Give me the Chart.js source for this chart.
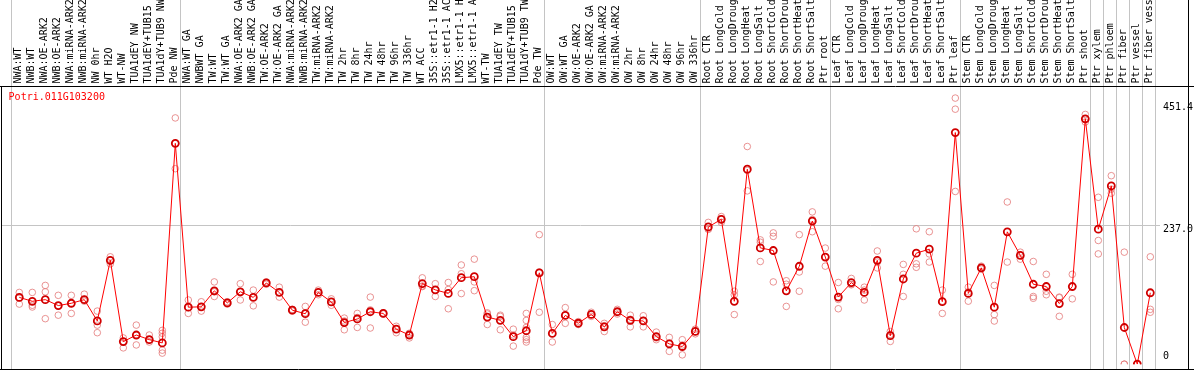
<!DOCTYPE html>
<html><head><meta charset="utf-8">
<script src="https://cdn.jsdelivr.net/npm/chart.js@4/dist/chart.umd.min.js"></script>
<style>html,body{margin:0;padding:0;background:#fff;overflow:hidden}#wrap{width:1194px;height:370px;position:relative}canvas{display:block}</style>
</head><body><div id="wrap"><canvas id="c" width="1194" height="370"></canvas></div>
<script>
const geneName = "Potri.011G103200";
const categories = [
 "NWA:WT","NWB:WT","NWA:OE-ARK2","NWB:OE-ARK2","NWA:miRNA-ARK2","NWB:miRNA-ARK2","NW 0hr","WT H2O","WT-NW","TUA1dEY NW","TUA1dEY+TUB15","TUA1dY+TUB9 NW","Pde NW",
 "NWA:WT GA","NWBWT GA","TW:WT","TW:WT GA","NWA:OE-ARK2 GA","NWB:OE-ARK2 GA","TW:OE-ARK2","TW:OE-ARK2 GA","NWA:miRNA-ARK2","NWB:miRNA-ARK2","TW:miRNA-ARK2","TW:miRNA-ARK2",
 "TW 2hr","TW 8hr","TW 24hr","TW 48hr","TW 96hr","TW 336hr","WT ACC","35S::etr1-1 H2","35S::etr1-1 AC","LMX5::etr1-1 H","LMX5::etr1-1 A","WT-TW","TUA1dEY TW","TUA1dEY+TUB15","TUA1dY+TUB9 TW","Pde TW",
 "OW:WT","OW:WT GA","OW:OE-ARK2","OW:OE-ARK2 GA","OW:miRNA-ARK2","OW:miRNA-ARK2","OW 2hr","OW 8hr","OW 24hr","OW 48hr","OW 96hr","OW 336hr",
 "Root CTR","Root LongCold","Root LongDroug","Root LongHeat","Root LongSalt","Root ShortCold","Root ShortDrou","Root ShortHeat","Root ShortSalt","Ptr root",
 "Leaf CTR","Leaf LongCold","Leaf LongDroug","Leaf LongHeat","Leaf LongSalt","Leaf ShortCold","Leaf ShortDrou","Leaf ShortHeat","Leaf ShortSalt","Ptr leaf",
 "Stem CTR","Stem LongCold","Stem LongDroug","Stem LongHeat","Stem LongSalt","Stem ShortCold","Stem ShortDrou","Stem ShortHeat","Stem ShortSalt","Ptr shoot",
 "Ptr xylem","Ptr phloem","Ptr fiber","Ptr vessel","Ptr fiber vess"
];
const meanValues = [
 114.5,107.8,110.6,100.5,104.4,110.6,74.1,178,38.7,50,42.1,36.5,378.4,
 97.7,98.3,125.7,105,124.1,114.5,139.2,123,92.6,86.5,123,106.7,
 71.3,77.5,89.9,87,60.1,50,138.1,127.4,121.3,148.2,149.9,80.8,75.2,47.2,57.3,156.6,
 52.8,83.6,70.2,85.3,64,89.9,75.2,74.1,47.2,34.8,30.3,56.2,
 235.2,248.2,107.8,334.1,199.3,194.8,125.7,167.8,245.3,183.6,
 115.1,139.8,123,178,48.8,146,190.3,197.1,107.2,396.9,
 121.3,165.1,97.7,226.8,186.4,137,133.1,103.9,133.1,420.5,
 231.3,305.4,62.9,0,122.4
];
const replicateValues = [
 [123,114,103],[123,101,98],[135,124,78],[118,100,84],[118,104,87],[120,108,111],[91,67,54],[184,172,178],[45,28,39],[67,33,50],[50,38,42],[58,53,47,24,19],[422,335,378],
 [110,87,97],[107,91,98],[141,116,124],[107,103,105],[138,110,124],[127,100,115],[141,139,137],[132,115,123],[94,91,93],[99,72,88],[127,119,123],[112,101,107],
 [79,59,74],[87,63,80],[115,62,93],[88,86,87],[65,54,60],[53,45,50],[148,133,134],[138,116,127],[140,128,95],[170,155,121],[180,141,126],[88,68,86],[84,59,82],[60,31,50],[87,75,63,46,42,38],[222,89,158],
 [68,38,53],[97,70,84],[73,68,70],[89,82,85],[70,56,66],[94,86,90],[84,64,77],[83,64,75],[55,42,45],[46,22,36],[42,16,33],[60,52,56],
 [243,231,232],[253,243,249],[125,119,85],[373,297,332],[213,209,176],[225,219,141],[143,137,99],[222,158,125],[261,227,248],[199,168,184],
 [140,111,95],[147,137,136],[132,110,127],[194,165,175],[56,39,51],[171,154,116],[232,172,166],[227,189,175],[127,87,108],[456,437,296],
 [132,108,124],[168,163,165],[135,85,74],[278,175],[192,180,187],[176,116,113],[154,125,119],[115,82,114],[154,112,133],[428,415,420],
 [286,212,189],[323,293,300],[192,0,0],[0,0,0],[184,94,89]
];
const yTickValues = [0, 237.0, 451.4];
const yTickLabels = ["0", "237.0", "451.4"];
const separatorAfter = [-1, 12, 40, 52, 62, 72, 82, 83, 84, 85, 86, 87];
const yMax = 476.7;

const MONO = '10px "DejaVu Sans Mono", "Liberation Mono", monospace';

const meanPoints = meanValues.map((v, i) => ({x: i, y: v}));
const replicatePoints = [];
replicateValues.forEach((arr, i) => arr.forEach(v => replicatePoints.push({x: i, y: v})));

const decorPlugin = {
  id: 'decor',
  beforeDatasetsDraw(chart) {
    const ctx = chart.ctx, xs = chart.scales.x, ys = chart.scales.y;
    const step = xs.getPixelForValue(1) - xs.getPixelForValue(0);
    ctx.save();
    ctx.strokeStyle = '#c4c4c4';
    ctx.lineWidth = 1;
    ctx.beginPath();
    separatorAfter.forEach(i => {
      const x = Math.floor(xs.getPixelForValue(i) + step * 0.38) + 0.5;
      ctx.moveTo(x, 0); ctx.lineTo(x, 369);
    });
    const gy = Math.floor(ys.getPixelForValue(yTickValues[1])) + 0.5;
    ctx.moveTo(1, gy); ctx.lineTo(1160, gy);
    ctx.stroke();
    ctx.restore();
  },
  afterDatasetsDraw(chart) {
    const ctx = chart.ctx, xs = chart.scales.x, ys = chart.scales.y;
    ctx.save();
    ctx.strokeStyle = '#000';
    ctx.lineWidth = 1;
    ctx.beginPath();
    ctx.moveTo(0, 86.5); ctx.lineTo(1194, 86.5);
    ctx.moveTo(0, 369.5); ctx.lineTo(1194, 369.5);
    ctx.moveTo(1.5, 86); ctx.lineTo(1.5, 370);
    ctx.moveTo(1188.5, 0); ctx.lineTo(1188.5, 370);
    ctx.stroke();
    ctx.font = MONO;
    ctx.fillStyle = '#000';
    ctx.textAlign = 'left';
    ctx.textBaseline = 'middle';
    categories.forEach((lab, i) => {
      const x = xs.getPixelForValue(i) - 0.8;
      ctx.save();
      ctx.translate(x, 83.5);
      ctx.rotate(-Math.PI / 2);
      ctx.fillText(lab, 0, 0);
      ctx.restore();
    });
    yTickValues.forEach((v, k) => {
      let y = ys.getPixelForValue(v);
      if (k === 0) y -= 7.3; else if (k === yTickValues.length - 1) y += 6.7; else y += 3.4;
      ctx.fillText(yTickLabels[k], 1163, y);
    });
    ctx.fillStyle = '#ff0000';
    ctx.fillText(geneName, 8.6, 97.5);
    ctx.restore();
  }
};

new Chart(document.getElementById('c'), {
  type: 'line',
  data: {
    datasets: [
      {
        label: 'replicates',
        data: replicatePoints,
        showLine: false,
        pointRadius: 3.3,
        pointBorderWidth: 1,
        pointBorderColor: 'rgba(228,120,120,0.8)',
        pointBackgroundColor: 'rgba(0,0,0,0)',
        order: 2
      },
      {
        label: 'mean',
        data: meanPoints,
        borderColor: '#ff0000',
        borderWidth: 1,
        tension: 0,
        pointRadius: 3.5,
        pointBorderWidth: 1.8,
        pointBorderColor: '#d00000',
        pointBackgroundColor: 'rgba(0,0,0,0)',
        order: 1
      }
    ]
  },
  options: {
    responsive: false,
    animation: false,
    devicePixelRatio: 1,
    layout: { padding: { left: 12.8, right: 37.2, top: 86, bottom: 1 } },
    scales: {
      x: { type: 'linear', min: -0.5, max: categories.length - 0.5, display: false },
      y: { min: 0, max: yMax, display: false }
    },
    plugins: { legend: { display: false }, tooltip: { enabled: false } }
  },
  plugins: [decorPlugin]
});
</script>
</body></html>
